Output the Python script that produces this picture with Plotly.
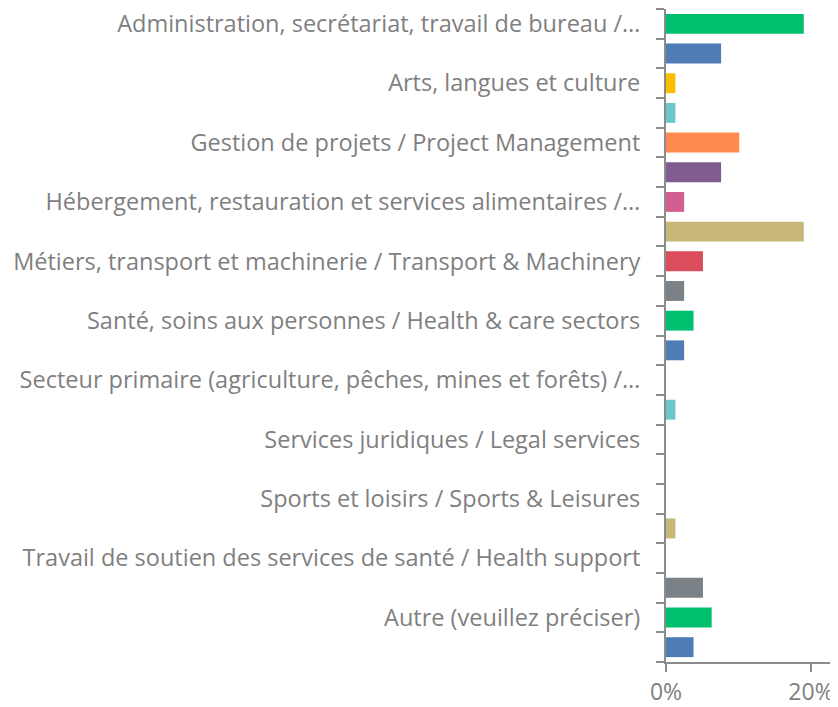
import plotly.graph_objects as go

labels = [
    "Administration, secrétariat, travail de bureau /…", "",
    "Arts, langues et culture", "",
    "Gestion de projets / Project Management", "",
    "Hébergement, restauration et services alimentaires /…", "",
    "Métiers, transport et machinerie / Transport & Machinery", "",
    "Santé, soins aux personnes / Health & care sectors", "",
    "Secteur primaire (agriculture, pêches, mines et forêts) /…", "",
    "Services juridiques / Legal services", "",
    "Sports et loisirs / Sports & Leisures", "",
    "Travail de soutien des services de santé / Health support", "",
    "Autre (veuillez préciser)", "",
]
values = [19.0, 7.6, 1.3, 1.3, 10.1, 7.6, 2.5, 19.0, 5.1, 2.5, 3.8, 2.5,
          0, 1.3, 0, 0, 0, 1.3, 0, 5.1, 6.3, 3.8]
colors = ["#00BF6F", "#507CB6", "#F9BE00", "#6BC8CD", "#FF8B4F", "#7F5D90",
          "#D35F90", "#C7B879", "#DB4D5C", "#7A8288"]
x_ticks = [0, 20]
x_ticktext = ["0%", "20%"]

n = len(labels)
pos = list(range(n))
bar_colors = [colors[i % len(colors)] for i in range(n)]

axis_col = "#8c8c8c"
text_col = "#7f7f7f"
font_family = "'Open Sans', sans-serif"

fig = go.Figure(go.Bar(
    x=values, y=pos, orientation="h",
    marker=dict(color=bar_colors, line=dict(width=0)),
    width=0.67, hoverinfo="x+y",
))

# page body has an 8px margin, so the figure is drawn 8px smaller
fig.update_layout(
    width=830, height=699,
    margin=dict(l=658, r=0, t=1, b=45),
    paper_bgcolor="white", plot_bgcolor="white",
    showlegend=False,
    font=dict(family=font_family, color=text_col, size=23),
)
fig.update_xaxes(
    range=[0, 23.72], automargin=False,
    tickvals=x_ticks, ticktext=x_ticktext,
    ticks="outside", ticklen=8, tickwidth=2, tickcolor=axis_col,
    showline=True, linecolor=axis_col, linewidth=2,
    showgrid=False, zeroline=False, ticklabeloverflow="allow",
    tickfont=dict(size=23, color=text_col),
)
fig.update_yaxes(
    range=[n - 0.5, -0.5], automargin=False,
    tickvals=pos, ticktext=labels,
    ticks="", ticklabelstandoff=19, ticklabeloverflow="allow",
    showline=True, linecolor=axis_col, linewidth=2,
    showgrid=False, zeroline=False,
    tickfont=dict(size=23.5, color=text_col),
    minor=dict(ticks="outside", tickvals=[i - 0.5 for i in range(n + 1)],
               ticklen=8, tickwidth=2, tickcolor=axis_col, showgrid=False),
)

fig.write_html("out.html")
